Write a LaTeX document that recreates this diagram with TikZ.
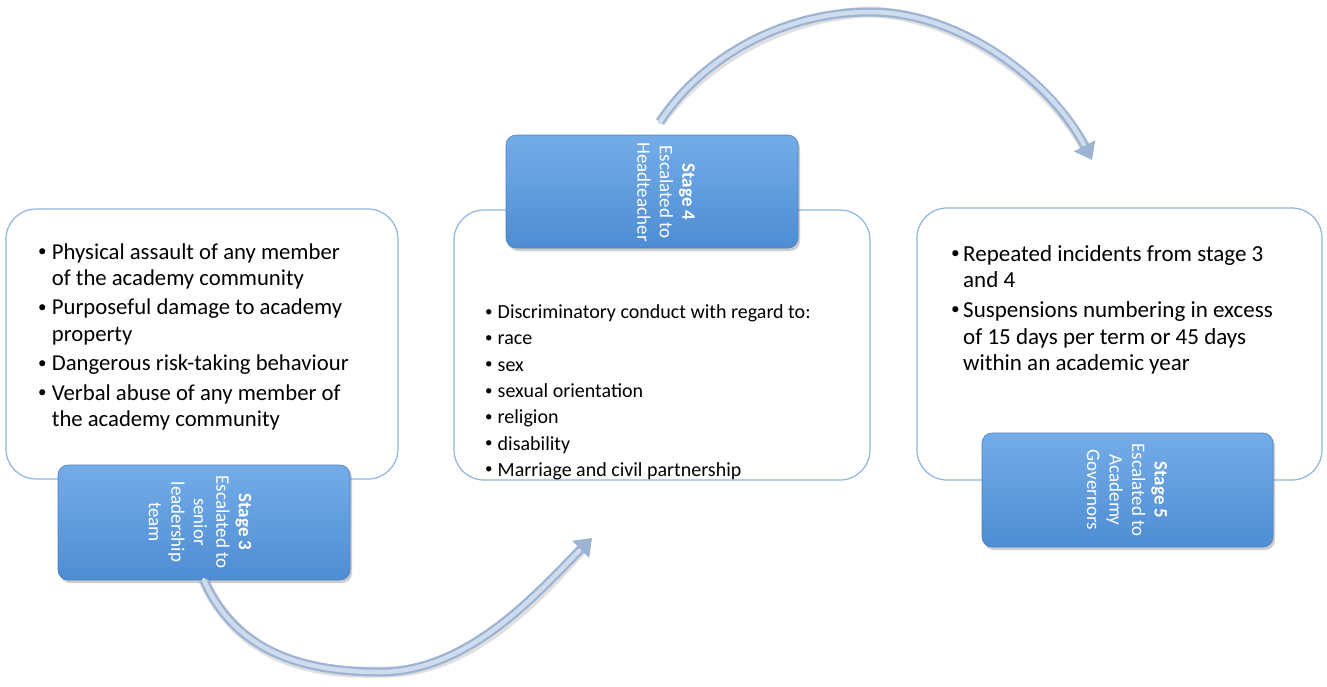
\documentclass[tikz,border=0pt]{standalone}
\usepackage{fontspec}
\setmainfont{Carlito}
\usetikzlibrary{arrows.meta,shadows}
\definecolor{framecol}{HTML}{8DB4E2}
\definecolor{bluetop}{HTML}{74ACE8}
\definecolor{bluebot}{HTML}{4E8DD3}
\definecolor{blueedge}{HTML}{4A80BF}
\definecolor{arrowout}{HTML}{9DB3D3}
\definecolor{arrowin}{HTML}{CFDCEE}
\newcommand{\bul}[1]{\makebox[#1][l]{\hspace{1pt}\raisebox{0.12em}{\scalebox{0.75}{\textbullet}}}}
\tikzset{
  panel/.style={draw=framecol, line width=1.2pt, rounded corners=30pt, fill=white, inner sep=0pt},
  stagebox/.style={rounded corners=10pt, top color=bluetop, bottom color=bluebot, draw=blueedge,
    line width=0.6pt, inner sep=0pt,
    drop shadow={opacity=0.4, shadow xshift=2pt, shadow yshift=-3pt}},
  stagetext/.style={rotate=-90, text=white, align=center, inner sep=0pt,
    font=\fontsize{19}{22.5}\selectfont},
  listtext/.style={anchor=base west, inner sep=0pt, text=black},
  arrowshade/.style={draw=black, opacity=0.12, line width=11pt, shorten >=8pt},
  arrowouter/.style={draw=arrowout, line width=9pt, -{Triangle[length=16pt,width=23pt]}},
  arrowinner/.style={draw=arrowin, line width=4.5pt, shorten >=18pt, line cap=round}
}
\begin{document}
\begin{tikzpicture}[x=1pt,y=-1pt]
\useasboundingbox (0,0) rectangle (1327,686);
% panels
\node[panel, minimum width=392pt, minimum height=270pt] (p1) at (202,344) {};
\node[panel, minimum width=416pt, minimum height=270pt] (p2) at (662,345) {};
\node[panel, minimum width=405pt, minimum height=272pt] (p3) at (1119.5,344) {};
% list texts
\node[listtext, font=\fontsize{22.7}{26.7}\selectfont] (l1) at (37,259)
 {\begin{tabular}[t]{@{}l@{}l@{}}
  \bul{14.7pt} & Physical assault of any member\\
   & of the academy community\\[2.5pt]
  \bul{14.7pt} & Purposeful damage to academy\\
   & property\\[2.5pt]
  \bul{14.7pt} & Dangerous risk-taking behaviour\\[2.5pt]
  \bul{14.7pt} & Verbal abuse of any member of\\
   & the academy community
 \end{tabular}};
\node[listtext, font=\fontsize{20}{26.3}\selectfont] (l2) at (484,318.5)
 {\begin{tabular}[t]{@{}l@{}l@{}}
  \bul{13.5pt} & Discriminatory conduct with regard to:\\
  \bul{13.5pt} & race\\
  \bul{13.5pt} & sex\\
  \bul{13.5pt} & sexual orientation\\
  \bul{13.5pt} & religion\\
  \bul{13.5pt} & disability\\
  \bul{13.5pt} & Marriage and civil partnership
 \end{tabular}};
\node[listtext, font=\fontsize{23}{26.7}\selectfont] (l3) at (950,261)
 {\begin{tabular}[t]{@{}l@{}l@{}}
  \bul{13pt} & Repeated incidents from stage 3\\
   & and 4\\[3pt]
  \bul{13pt} & Suspensions numbering in excess\\
   & of 15 days per term or 45 days\\
   & within an academic year
 \end{tabular}};
% stage boxes
\node[stagebox, minimum width=292pt, minimum height=115pt] (s3) at (204,522.5) {};
\node[stagebox, minimum width=292pt, minimum height=113pt] (s4) at (652,191.5) {};
\node[stagebox, minimum width=291pt, minimum height=114pt] (s5) at (1127.5,490) {};
\node[stagetext] (t3) at (200,522) {\textbf{Stage 3}\\Escalated to\\senior\\leadership\\team};
\node[stagetext] (t4) at (666,192) {\textbf{Stage 4}\\Escalated to\\Headteacher};
\node[stagetext] (t5) at (1127,490) {\textbf{Stage 5}\\Escalated to\\Academy\\Governors};
% arrows
\coordinate (a1e) at (592,538);
\coordinate (a1m) at (380,672);
\coordinate (a2s) at (660,122);
\coordinate (a2m) at (870,12);
\coordinate (a2e) at (1092,160);
\begin{scope}[xshift=2pt,yshift=-3pt]
\draw[arrowshade] (s3.south) .. controls (235,650) and (300,672) .. (a1m)
   .. controls (470,672) and (540,590) .. (a1e);
\draw[arrowshade] (a2s) .. controls (700,60) and (780,12) .. (a2m)
   .. controls (960,12) and (1050,80) .. (a2e);
\end{scope}
\draw[arrowouter] (s3.south) .. controls (235,650) and (300,672) .. (a1m)
   .. controls (470,672) and (540,590) .. (a1e);
\draw[arrowinner] (s3.south) .. controls (235,650) and (300,672) .. (a1m)
   .. controls (470,672) and (540,590) .. (a1e);
\draw[arrowouter] (a2s) .. controls (700,60) and (780,12) .. (a2m)
   .. controls (960,12) and (1050,80) .. (a2e);
\draw[arrowinner] (a2s) .. controls (700,60) and (780,12) .. (a2m)
   .. controls (960,12) and (1050,80) .. (a2e);
\end{tikzpicture}
\end{document}
